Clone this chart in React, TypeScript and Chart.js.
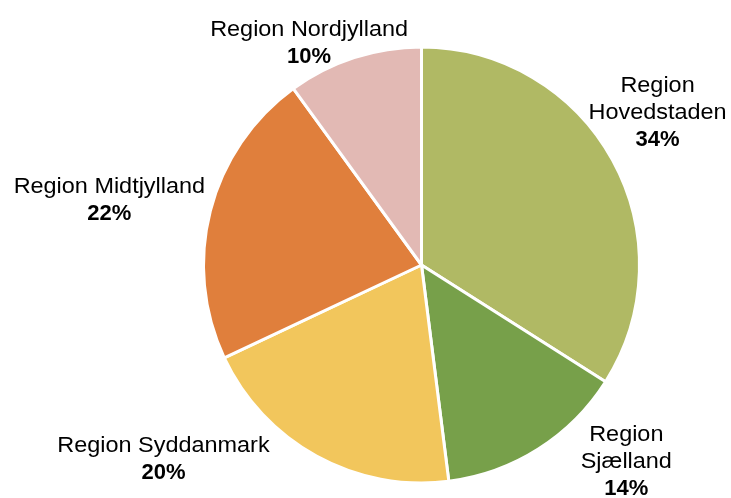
import React, { useEffect, useRef } from "react";
import { Chart, registerables } from "chart.js";

Chart.register(...registerables);

const categories = [
  "Region Hovedstaden",
  "Region Sjælland",
  "Region Syddanmark",
  "Region Midtjylland",
  "Region Nordjylland",
];
const shares = [34, 14, 20, 22, 10];
const labelLines = [
  ["Region", "Hovedstaden"],
  ["Region", "Sjælland"],
  ["Region Syddanmark"],
  ["Region Midtjylland"],
  ["Region Nordjylland"],
];
const colors = ["#B0B964", "#77A04A", "#F2C65C", "#E07F3C", "#E2B9B4"];

// label anchor offsets from the slice's outer mid-point (center x, first baseline)
const labelOffsets = [
  [45, -68],
  [88, -8],
  [-153, -4],
  [-101, -18],
  [-45, -22],
];

const labelPlugin = {
  id: "sliceLabels",
  afterDatasetsDraw(chart: any) {
    const ctx = chart.ctx;
    const meta = chart.getDatasetMeta(0);
    const total = shares.reduce((a, b) => a + b, 0);
    ctx.save();
    ctx.fillStyle = "#000000";
    ctx.textAlign = "center";
    ctx.textBaseline = "alphabetic";
    const lh = 27;
    meta.data.forEach((arc: any, i: number) => {
      const p = arc.getProps(["x", "y", "startAngle", "endAngle", "outerRadius"], true);
      const mid = (p.startAngle + p.endAngle) / 2;
      const ax = p.x + Math.cos(mid) * p.outerRadius + labelOffsets[i][0];
      const ay = p.y + Math.sin(mid) * p.outerRadius + labelOffsets[i][1];
      const lines = labelLines[i];
      ctx.font = '22px "Liberation Sans", Arial, sans-serif';
      lines.forEach((ln, k) => {
        ctx.save();
        ctx.translate(ax, ay + k * lh);
        ctx.scale(1.065, 1);
        ctx.fillText(ln, 0, 0);
        ctx.restore();
      });
      ctx.font = 'bold 22px "Liberation Sans", Arial, sans-serif';
      const pct = Math.round((shares[i] / total) * 100) + "%";
      ctx.fillText(pct, ax, ay + lines.length * lh);
    });
    ctx.restore();
  },
};

export default function App() {
  const ref = useRef<HTMLCanvasElement | null>(null);
  useEffect(() => {
    document.body.style.margin = "0";
    const chart = new Chart(ref.current as HTMLCanvasElement, {
      type: "pie",
      data: {
        labels: categories,
        datasets: [
          {
            data: shares,
            backgroundColor: colors,
            borderColor: "#FFFFFF",
            borderWidth: 3,
            hoverOffset: 0,
          },
        ],
      },
      options: {
        animation: false,
        responsive: false,
        maintainAspectRatio: false,
        layout: { padding: { left: 202, right: 90, top: 45, bottom: 13 } },
        plugins: {
          legend: { display: false },
          tooltip: { enabled: false },
        },
      },
      plugins: [labelPlugin],
    });
    return () => chart.destroy();
  }, []);
  return (
    <div style={{ position: "fixed", left: 0, top: 0, width: 731, height: 498, background: "#fff" }}>
      <canvas ref={ref} width={731} height={498} style={{ width: 731, height: 498 }} />
    </div>
  );
}
